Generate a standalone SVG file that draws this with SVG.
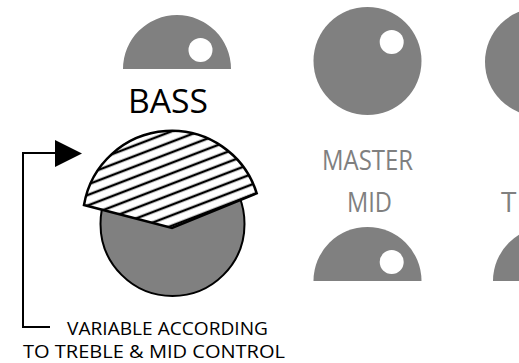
<svg xmlns="http://www.w3.org/2000/svg" width="519" height="363" viewBox="0 0 519 363">
  <style>
    .knob { fill: #808080; }
    .dot { fill: #ffffff; }
    .lbl-b { font-family: "Open Sans", "Liberation Sans", sans-serif; fill: #000000; }
    .lbl-g { font-family: "Open Sans", "Liberation Sans", sans-serif; fill: #808080; font-size: 28px; }
    .note { font-family: "Open Sans", "Liberation Sans", sans-serif; fill: #000000; font-size: 19px; }
    .line { fill: none; stroke: #000000; stroke-width: 2; }
  </style>
  <defs>
    <pattern id="hatch" patternUnits="userSpaceOnUse" width="40" height="9.8" patternTransform="translate(0,3) rotate(-21)">
      <line x1="-5" y1="4.9" x2="45" y2="4.9" stroke="#000000" stroke-width="2.6"/>
    </pattern>
    <clipPath id="sectorClip">
      <path d="M84,205 A89,89 0 0 1 256.7,193.3 L172,228 Z"/>
    </clipPath>
  </defs>
  <rect width="519" height="363" fill="#ffffff"/>

  <g id="knob-bass-top">
    <path class="knob" d="M123,69 A54,54 0 0 1 231,69 Z"/>
    <circle class="dot" cx="200.5" cy="50" r="12"/>
  </g>

  <g id="label-bass">
    <text class="lbl-b" x="128" y="113" font-size="33" textLength="80" lengthAdjust="spacingAndGlyphs">BASS</text>
  </g>

  <g id="knob-bass">
    <circle cx="172.5" cy="224" r="72" fill="#808080" stroke="#000000" stroke-width="2"/>
    <path d="M84,205 A89,89 0 0 1 256.7,193.3 L172,228 Z" fill="#ffffff"/>
    <rect x="80" y="125" width="185" height="110" fill="url(#hatch)" clip-path="url(#sectorClip)"/>
    <path d="M84,205 A89,89 0 0 1 256.7,193.3 L172,228 Z" fill="none" stroke="#000000" stroke-width="2.5" stroke-linejoin="miter"/>
  </g>

  <g id="knob-master">
    <circle class="knob" cx="367.5" cy="61" r="54"/>
    <circle class="dot" cx="391.7" cy="42" r="12"/>
  </g>

  <g id="knob-right-top">
    <circle class="knob" cx="539" cy="62" r="54"/>
  </g>

  <g id="label-master-mid">
    <text class="lbl-g" x="322" y="170" textLength="91" lengthAdjust="spacingAndGlyphs">MASTER</text>
    <text class="lbl-g" x="347" y="212" textLength="45" lengthAdjust="spacingAndGlyphs">MID</text>
  </g>

  <g id="label-t">
    <text class="lbl-g" x="501" y="212">T</text>
  </g>

  <g id="knob-mid">
    <path class="knob" d="M313.5,281 A54,54 0 0 1 421.5,281 Z"/>
    <circle class="dot" cx="391.7" cy="262" r="12"/>
  </g>

  <g id="knob-right-bottom">
    <path class="knob" d="M493,281 A54,54 0 0 1 601,281 Z"/>
  </g>

  <g id="connectors">
    <polyline class="line" points="50,327 23,327 23,153 56,153"/>
    <polygon points="55,140 82,153.5 55,167" fill="#000000"/>
  </g>

  <g id="note">
    <text class="note" x="67" y="335" textLength="201" lengthAdjust="spacingAndGlyphs">VARIABLE ACCORDING</text>
    <text class="note" x="23" y="358" textLength="262" lengthAdjust="spacingAndGlyphs">TO TREBLE &amp; MID CONTROL</text>
  </g>
</svg>
